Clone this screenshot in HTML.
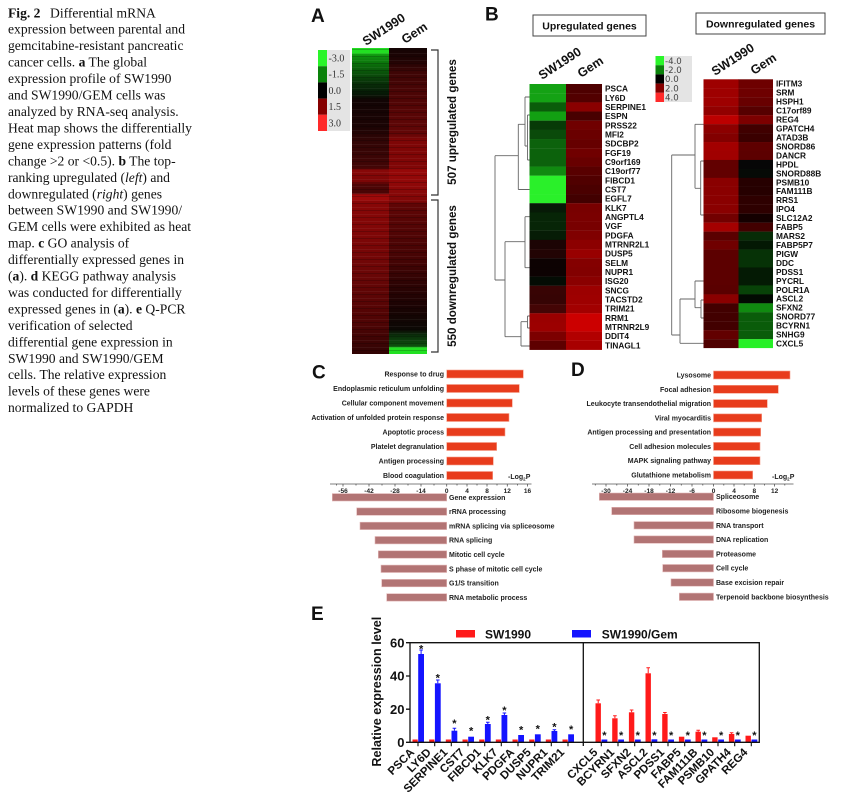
<!DOCTYPE html>
<html><head><meta charset="utf-8"><style>
html,body{margin:0;padding:0;background:#fff;}
svg{display:block;}
.cap{font-family:"Liberation Serif","Times New Roman",serif;font-size:13.6px;fill:#111;}
.b{font-family:"Liberation Sans",Arial,sans-serif;font-weight:bold;fill:#111;}
.lbl{font-family:"Liberation Sans",Arial,sans-serif;font-weight:bold;font-size:8.3px;fill:#111;}
.go{font-family:"Liberation Sans",Arial,sans-serif;font-weight:bold;font-size:7px;fill:#222;}
.tk{font-family:"Liberation Sans",Arial,sans-serif;font-weight:bold;font-size:6.5px;fill:#222;}
.lg{font-family:"DejaVu Sans",sans-serif;font-size:8.6px;fill:#444;}
</style></head><body>
<svg width="845" height="806" viewBox="0 0 845 806" xmlns="http://www.w3.org/2000/svg">
<defs>
<linearGradient id="gA1" x1="0" y1="0" x2="0" y2="1">
<stop offset="0" stop-color="#22e022"/><stop offset="0.016" stop-color="#22e022"/><stop offset="0.02" stop-color="#12a012"/><stop offset="0.033" stop-color="#0e8a0e"/><stop offset="0.06" stop-color="#0a660a"/><stop offset="0.09" stop-color="#0a4a0a"/><stop offset="0.114" stop-color="#083008"/><stop offset="0.15" stop-color="#061806"/><stop offset="0.17" stop-color="#120404"/><stop offset="0.26" stop-color="#1c0404"/><stop offset="0.30" stop-color="#300505"/><stop offset="0.39" stop-color="#420505"/><stop offset="0.40" stop-color="#880808"/><stop offset="0.44" stop-color="#7a0606"/><stop offset="0.445" stop-color="#4e0505"/><stop offset="0.474" stop-color="#4a0505"/><stop offset="0.48" stop-color="#a00a0a"/><stop offset="0.497" stop-color="#a00a0a"/><stop offset="0.50" stop-color="#880707"/><stop offset="0.6" stop-color="#800707"/><stop offset="0.716" stop-color="#6e0606"/><stop offset="0.8" stop-color="#5e0505"/><stop offset="0.9" stop-color="#4e0404"/><stop offset="0.97" stop-color="#3a0404"/><stop offset="1" stop-color="#300303"/>
</linearGradient>
<linearGradient id="gA2" x1="0" y1="0" x2="0" y2="1">
<stop offset="0" stop-color="#140404"/><stop offset="0.04" stop-color="#200404"/><stop offset="0.08" stop-color="#3e0505"/><stop offset="0.2" stop-color="#550505"/><stop offset="0.28" stop-color="#620606"/><stop offset="0.3" stop-color="#7e0606"/><stop offset="0.39" stop-color="#800606"/><stop offset="0.4" stop-color="#960808"/><stop offset="0.44" stop-color="#900808"/><stop offset="0.5" stop-color="#800707"/><stop offset="0.51" stop-color="#600505"/><stop offset="0.6" stop-color="#520505"/><stop offset="0.7" stop-color="#440404"/><stop offset="0.77" stop-color="#2e0303"/><stop offset="0.85" stop-color="#1a0303"/><stop offset="0.92" stop-color="#0c0804"/><stop offset="0.94" stop-color="#0a300a"/><stop offset="0.975" stop-color="#0e500e"/><stop offset="0.98" stop-color="#22e022"/><stop offset="1" stop-color="#22e022"/>
</linearGradient>
<pattern id="str" width="8" height="7" patternUnits="userSpaceOnUse"><rect y="0" width="8" height="1" fill="#000" opacity="0.2"/><rect y="4" width="8" height="1" fill="#fff" opacity="0.05"/></pattern>
</defs>

<!-- Caption -->
<text class="cap" x="8" y="17.3"><tspan font-weight="bold">Fig. 2</tspan><tspan x="50">Differential mRNA</tspan></text>
<text class="cap" x="8" y="33.7">expression between parental and</text>
<text class="cap" x="8" y="50.2">gemcitabine-resistant pancreatic</text>
<text class="cap" x="8" y="66.6">cancer cells. <tspan font-weight="bold">a</tspan> The global</text>
<text class="cap" x="8" y="83.1">expression profile of SW1990</text>
<text class="cap" x="8" y="99.5">and SW1990/GEM cells was</text>
<text class="cap" x="8" y="116.0">analyzed by RNA-seq analysis.</text>
<text class="cap" x="8" y="132.5">Heat map shows the differentially</text>
<text class="cap" x="8" y="148.9">gene expression patterns (fold</text>
<text class="cap" x="8" y="165.4">change &gt;2 or &lt;0.5). <tspan font-weight="bold">b</tspan> The top-</text>
<text class="cap" x="8" y="181.8">ranking upregulated (<tspan font-style="italic">left</tspan>) and</text>
<text class="cap" x="8" y="198.3">downregulated (<tspan font-style="italic">right</tspan>) genes</text>
<text class="cap" x="8" y="214.7">between SW1990 and SW1990/</text>
<text class="cap" x="8" y="231.2">GEM cells were exhibited as heat</text>
<text class="cap" x="8" y="247.6">map. <tspan font-weight="bold">c</tspan> GO analysis of</text>
<text class="cap" x="8" y="264.1">differentially expressed genes in</text>
<text class="cap" x="8" y="280.5">(<tspan font-weight="bold">a</tspan>). <tspan font-weight="bold">d</tspan> KEGG pathway analysis</text>
<text class="cap" x="8" y="297.0">was conducted for differentially</text>
<text class="cap" x="8" y="313.4">expressed genes in (<tspan font-weight="bold">a</tspan>). <tspan font-weight="bold">e</tspan> Q-PCR</text>
<text class="cap" x="8" y="329.9">verification of selected</text>
<text class="cap" x="8" y="346.3">differential gene expression in</text>
<text class="cap" x="8" y="362.8">SW1990 and SW1990/GEM</text>
<text class="cap" x="8" y="379.2">cells. The relative expression</text>
<text class="cap" x="8" y="395.7">levels of these genes were</text>
<text class="cap" x="8" y="412.1">normalized to GAPDH</text>

<!-- Panel letters -->
<text class="b" x="311" y="22" font-size="19">A</text>
<text class="b" x="485" y="20.5" font-size="19">B</text>
<text class="b" x="312" y="378.5" font-size="19">C</text>
<text class="b" x="571" y="376" font-size="19">D</text>
<text class="b" x="311" y="620" font-size="19">E</text>

<!-- Panel A -->
<rect x="327" y="50" width="23" height="81" fill="#e4e4e4"/>
<rect x="318" y="50" width="9" height="16.2" fill="#2af52a"/>
<rect x="318" y="66.2" width="9" height="16.2" fill="#0a820a"/>
<rect x="318" y="82.4" width="9" height="16.2" fill="#000"/>
<rect x="318" y="98.6" width="9" height="16.2" fill="#860000"/>
<rect x="318" y="114.8" width="9" height="16.2" fill="#ff2a2a"/>
<g font-family="Liberation Serif, serif" font-size="10" fill="#333">
<text x="328.5" y="61.5">-3.0</text><text x="328.5" y="77.7">-1.5</text><text x="328.5" y="93.9">0.0</text><text x="328.5" y="110.1">1.5</text><text x="328.5" y="126.3">3.0</text>
</g>
<rect x="352" y="48" width="37" height="306" fill="url(#gA1)"/>
<rect x="389" y="48" width="38" height="306" fill="url(#gA2)"/>
<rect x="352" y="48" width="75" height="306" fill="url(#str)"/>
<text class="b" font-size="12.5" transform="translate(366,46) rotate(-33)">SW1990</text>
<text class="b" font-size="12.5" transform="translate(405,44) rotate(-33)">Gem</text>
<path d="M431 50H438V195H431M431 200H438V352H431" fill="none" stroke="#333" stroke-width="1.2"/>
<text class="b" font-size="11.6" text-anchor="middle" transform="translate(456,122) rotate(-90)">507 upregulated genes</text>
<text class="b" font-size="11.6" text-anchor="middle" transform="translate(456,276) rotate(-90)">550 downregulated genes</text>

<!-- Panel B headers -->
<rect x="533" y="15" width="113" height="21" fill="#fff" stroke="#444" stroke-width="1"/>
<text class="b" font-size="10.5" x="589.5" y="29.3" text-anchor="middle">Upregulated genes</text>
<rect x="696" y="13" width="129" height="21" fill="#fff" stroke="#444" stroke-width="1"/>
<text class="b" font-size="10.5" x="760.5" y="27.3" text-anchor="middle">Downregulated genes</text>
<text class="b" font-size="12.5" transform="translate(542,80) rotate(-33)">SW1990</text>
<text class="b" font-size="12.5" transform="translate(581,78) rotate(-33)">Gem</text>
<text class="b" font-size="12.5" transform="translate(715,76) rotate(-33)">SW1990</text>
<text class="b" font-size="12.5" transform="translate(754,75) rotate(-33)">Gem</text>

<!-- B legend -->
<rect x="664" y="56" width="28" height="46" fill="#e4e4e4"/>
<rect x="655.5" y="56" width="8.5" height="9.2" fill="#2af52a"/>
<rect x="655.5" y="65.2" width="8.5" height="9.2" fill="#0a820a"/>
<rect x="655.5" y="74.4" width="8.5" height="9.2" fill="#000"/>
<rect x="655.5" y="83.6" width="8.5" height="9.2" fill="#860000"/>
<rect x="655.5" y="92.8" width="8.5" height="9.2" fill="#ff2a2a"/>
<text class="lg" x="665" y="63.8">-4.0</text><text class="lg" x="665" y="73">-2.0</text><text class="lg" x="665" y="82.2">0.0</text><text class="lg" x="665" y="91.4">2.0</text><text class="lg" x="665" y="100.6">4.0</text>

<!-- B left heatmap -->
<g>
<rect x="529.5" y="84.00" width="36.8" height="9.3" fill="#14a214"/><rect x="566" y="84.00" width="36" height="9.3" fill="#4e0000"/>
<rect x="529.5" y="93.17" width="36.8" height="9.3" fill="#14a214"/><rect x="566" y="93.17" width="36" height="9.3" fill="#520000"/>
<rect x="529.5" y="102.34" width="36.8" height="9.3" fill="#0a5c0a"/><rect x="566" y="102.34" width="36" height="9.3" fill="#8a0000"/>
<rect x="529.5" y="111.51" width="36.8" height="9.3" fill="#12a012"/><rect x="566" y="111.51" width="36" height="9.3" fill="#480000"/>
<rect x="529.5" y="120.68" width="36.8" height="9.3" fill="#073a07"/><rect x="566" y="120.68" width="36" height="9.3" fill="#700000"/>
<rect x="529.5" y="129.85" width="36.8" height="9.3" fill="#0a4a0a"/><rect x="566" y="129.85" width="36" height="9.3" fill="#6a0000"/>
<rect x="529.5" y="139.02" width="36.8" height="9.3" fill="#0c620c"/><rect x="566" y="139.02" width="36" height="9.3" fill="#660000"/>
<rect x="529.5" y="148.19" width="36.8" height="9.3" fill="#0c620c"/><rect x="566" y="148.19" width="36" height="9.3" fill="#700000"/>
<rect x="529.5" y="157.36" width="36.8" height="9.3" fill="#0c620c"/><rect x="566" y="157.36" width="36" height="9.3" fill="#680000"/>
<rect x="529.5" y="166.53" width="36.8" height="9.3" fill="#108a10"/><rect x="566" y="166.53" width="36" height="9.3" fill="#580000"/>
<rect x="529.5" y="175.70" width="36.8" height="9.3" fill="#2af02a"/><rect x="566" y="175.70" width="36" height="9.3" fill="#500000"/>
<rect x="529.5" y="184.87" width="36.8" height="9.3" fill="#2af02a"/><rect x="566" y="184.87" width="36" height="9.3" fill="#4a0000"/>
<rect x="529.5" y="194.04" width="36.8" height="9.3" fill="#2af02a"/><rect x="566" y="194.04" width="36" height="9.3" fill="#420000"/>
<rect x="529.5" y="203.21" width="36.8" height="9.3" fill="#071a07"/><rect x="566" y="203.21" width="36" height="9.3" fill="#780000"/>
<rect x="529.5" y="212.38" width="36.8" height="9.3" fill="#072507"/><rect x="566" y="212.38" width="36" height="9.3" fill="#7a0000"/>
<rect x="529.5" y="221.55" width="36.8" height="9.3" fill="#072507"/><rect x="566" y="221.55" width="36" height="9.3" fill="#780000"/>
<rect x="529.5" y="230.72" width="36.8" height="9.3" fill="#061c06"/><rect x="566" y="230.72" width="36" height="9.3" fill="#800000"/>
<rect x="529.5" y="239.89" width="36.8" height="9.3" fill="#1c0404"/><rect x="566" y="239.89" width="36" height="9.3" fill="#8c0000"/>
<rect x="529.5" y="249.06" width="36.8" height="9.3" fill="#220404"/><rect x="566" y="249.06" width="36" height="9.3" fill="#980000"/>
<rect x="529.5" y="258.23" width="36.8" height="9.3" fill="#0d0202"/><rect x="566" y="258.23" width="36" height="9.3" fill="#840000"/>
<rect x="529.5" y="267.40" width="36.8" height="9.3" fill="#0d0202"/><rect x="566" y="267.40" width="36" height="9.3" fill="#820000"/>
<rect x="529.5" y="276.57" width="36.8" height="9.3" fill="#040c04"/><rect x="566" y="276.57" width="36" height="9.3" fill="#8a0000"/>
<rect x="529.5" y="285.74" width="36.8" height="9.3" fill="#380404"/><rect x="566" y="285.74" width="36" height="9.3" fill="#9c0000"/>
<rect x="529.5" y="294.91" width="36.8" height="9.3" fill="#360404"/><rect x="566" y="294.91" width="36" height="9.3" fill="#9e0000"/>
<rect x="529.5" y="304.08" width="36.8" height="9.3" fill="#440505"/><rect x="566" y="304.08" width="36" height="9.3" fill="#a20000"/>
<rect x="529.5" y="313.25" width="36.8" height="9.3" fill="#9a0000"/><rect x="566" y="313.25" width="36" height="9.3" fill="#cc0000"/>
<rect x="529.5" y="322.42" width="36.8" height="9.3" fill="#9c0000"/><rect x="566" y="322.42" width="36" height="9.3" fill="#cc0000"/>
<rect x="529.5" y="331.59" width="36.8" height="9.3" fill="#7c0000"/><rect x="566" y="331.59" width="36" height="9.3" fill="#b20000"/>
<rect x="529.5" y="340.76" width="36.8" height="9.17" fill="#5e0000"/><rect x="566" y="340.76" width="36" height="9.17" fill="#a80000"/>
</g>
<g class="lbl">
<text class="lbl" x="605" y="91.6">PSCA</text><text class="lbl" x="605" y="100.8">LY6D</text><text class="lbl" x="605" y="109.9">SERPINE1</text><text class="lbl" x="605" y="119.1">ESPN</text><text class="lbl" x="605" y="128.3">PRSS22</text><text class="lbl" x="605" y="137.5">MFI2</text><text class="lbl" x="605" y="146.6">SDCBP2</text><text class="lbl" x="605" y="155.8">FGF19</text><text class="lbl" x="605" y="165.0">C9orf169</text><text class="lbl" x="605" y="174.1">C19orf77</text><text class="lbl" x="605" y="183.3">FIBCD1</text><text class="lbl" x="605" y="192.5">CST7</text><text class="lbl" x="605" y="201.6">EGFL7</text><text class="lbl" x="605" y="210.8">KLK7</text><text class="lbl" x="605" y="220.0">ANGPTL4</text><text class="lbl" x="605" y="229.2">VGF</text><text class="lbl" x="605" y="238.3">PDGFA</text><text class="lbl" x="605" y="247.5">MTRNR2L1</text><text class="lbl" x="605" y="256.7">DUSP5</text><text class="lbl" x="605" y="265.8">SELM</text><text class="lbl" x="605" y="275.0">NUPR1</text><text class="lbl" x="605" y="284.2">ISG20</text><text class="lbl" x="605" y="293.3">SNCG</text><text class="lbl" x="605" y="302.5">TACSTD2</text><text class="lbl" x="605" y="311.7">TRIM21</text><text class="lbl" x="605" y="320.9">RRM1</text><text class="lbl" x="605" y="330.0">MTRNR2L9</text><text class="lbl" x="605" y="339.2">DDIT4</text><text class="lbl" x="605" y="348.4">TINAGL1</text>
</g>
<path d="M495 155.7V280M495 155.7H518.3M518.3 124.3V189.5M518.3 189.5H529.5M518.3 124.3H525M525 97V146M525 97H529.5M525 146H527.5M527.5 115V160M527.5 115H529.5M527.5 160H529.5M495 280H505M505 241.7V336.7M505 241.7H525M525 216.7V267.7M525 216.7H529.5M525 267.7H529.5M505 336.7H521M521 321.7V346M521 346H529.5M521 321.7H527.5M527.5 316V328M527.5 316H529.5M527.5 328H529.5" fill="none" stroke="#666" stroke-width="0.9"/>

<!-- B right heatmap -->
<g>
<rect x="703.5" y="79.30" width="35.3" height="9.1" fill="#9e0000"/><rect x="738.5" y="79.30" width="34.5" height="9.1" fill="#6e0000"/>
<rect x="703.5" y="88.26" width="35.3" height="9.1" fill="#9e0000"/><rect x="738.5" y="88.26" width="34.5" height="9.1" fill="#6e0000"/>
<rect x="703.5" y="97.22" width="35.3" height="9.1" fill="#9e0000"/><rect x="738.5" y="97.22" width="34.5" height="9.1" fill="#680000"/>
<rect x="703.5" y="106.18" width="35.3" height="9.1" fill="#920000"/><rect x="738.5" y="106.18" width="34.5" height="9.1" fill="#560000"/>
<rect x="703.5" y="115.14" width="35.3" height="9.1" fill="#bc0000"/><rect x="738.5" y="115.14" width="34.5" height="9.1" fill="#7c0000"/>
<rect x="703.5" y="124.10" width="35.3" height="9.1" fill="#8c0000"/><rect x="738.5" y="124.10" width="34.5" height="9.1" fill="#400000"/>
<rect x="703.5" y="133.06" width="35.3" height="9.1" fill="#820000"/><rect x="738.5" y="133.06" width="34.5" height="9.1" fill="#3a0000"/>
<rect x="703.5" y="142.02" width="35.3" height="9.1" fill="#a20000"/><rect x="738.5" y="142.02" width="34.5" height="9.1" fill="#5e0000"/>
<rect x="703.5" y="150.98" width="35.3" height="9.1" fill="#a00000"/><rect x="738.5" y="150.98" width="34.5" height="9.1" fill="#5c0000"/>
<rect x="703.5" y="159.94" width="35.3" height="9.1" fill="#620000"/><rect x="738.5" y="159.94" width="34.5" height="9.1" fill="#060606"/>
<rect x="703.5" y="168.90" width="35.3" height="9.1" fill="#620000"/><rect x="738.5" y="168.90" width="34.5" height="9.1" fill="#060a06"/>
<rect x="703.5" y="177.86" width="35.3" height="9.1" fill="#8a0000"/><rect x="738.5" y="177.86" width="34.5" height="9.1" fill="#260000"/>
<rect x="703.5" y="186.82" width="35.3" height="9.1" fill="#8a0000"/><rect x="738.5" y="186.82" width="34.5" height="9.1" fill="#260000"/>
<rect x="703.5" y="195.78" width="35.3" height="9.1" fill="#8a0000"/><rect x="738.5" y="195.78" width="34.5" height="9.1" fill="#2e0000"/>
<rect x="703.5" y="204.74" width="35.3" height="9.1" fill="#8a0000"/><rect x="738.5" y="204.74" width="34.5" height="9.1" fill="#2e0000"/>
<rect x="703.5" y="213.70" width="35.3" height="9.1" fill="#720000"/><rect x="738.5" y="213.70" width="34.5" height="9.1" fill="#140000"/>
<rect x="703.5" y="222.66" width="35.3" height="9.1" fill="#a40000"/><rect x="738.5" y="222.66" width="34.5" height="9.1" fill="#420000"/>
<rect x="703.5" y="231.62" width="35.3" height="9.1" fill="#5a0000"/><rect x="738.5" y="231.62" width="34.5" height="9.1" fill="#072c07"/>
<rect x="703.5" y="240.58" width="35.3" height="9.1" fill="#700000"/><rect x="738.5" y="240.58" width="34.5" height="9.1" fill="#041804"/>
<rect x="703.5" y="249.54" width="35.3" height="9.1" fill="#5c0000"/><rect x="738.5" y="249.54" width="34.5" height="9.1" fill="#063206"/>
<rect x="703.5" y="258.50" width="35.3" height="9.1" fill="#5c0000"/><rect x="738.5" y="258.50" width="34.5" height="9.1" fill="#063206"/>
<rect x="703.5" y="267.46" width="35.3" height="9.1" fill="#5c0000"/><rect x="738.5" y="267.46" width="34.5" height="9.1" fill="#041a04"/>
<rect x="703.5" y="276.42" width="35.3" height="9.1" fill="#5c0000"/><rect x="738.5" y="276.42" width="34.5" height="9.1" fill="#041a04"/>
<rect x="703.5" y="285.38" width="35.3" height="9.1" fill="#5a0000"/><rect x="738.5" y="285.38" width="34.5" height="9.1" fill="#084208"/>
<rect x="703.5" y="294.34" width="35.3" height="9.1" fill="#8a0000"/><rect x="738.5" y="294.34" width="34.5" height="9.1" fill="#020a02"/>
<rect x="703.5" y="303.30" width="35.3" height="9.1" fill="#420000"/><rect x="738.5" y="303.30" width="34.5" height="9.1" fill="#108a10"/>
<rect x="703.5" y="312.26" width="35.3" height="9.1" fill="#420000"/><rect x="738.5" y="312.26" width="34.5" height="9.1" fill="#0a5c0a"/>
<rect x="703.5" y="321.22" width="35.3" height="9.1" fill="#420000"/><rect x="738.5" y="321.22" width="34.5" height="9.1" fill="#0a5c0a"/>
<rect x="703.5" y="330.18" width="35.3" height="9.1" fill="#620000"/><rect x="738.5" y="330.18" width="34.5" height="9.1" fill="#0a5c0a"/>
<rect x="703.5" y="339.14" width="35.3" height="8.96" fill="#500000"/><rect x="738.5" y="339.14" width="34.5" height="8.96" fill="#28f028"/>
</g>
<g>
<text class="lbl" x="776" y="86.7">IFITM3</text><text class="lbl" x="776" y="95.7">SRM</text><text class="lbl" x="776" y="104.6">HSPH1</text><text class="lbl" x="776" y="113.6">C17orf89</text><text class="lbl" x="776" y="122.5">REG4</text><text class="lbl" x="776" y="131.5">GPATCH4</text><text class="lbl" x="776" y="140.5">ATAD3B</text><text class="lbl" x="776" y="149.4">SNORD86</text><text class="lbl" x="776" y="158.4">DANCR</text><text class="lbl" x="776" y="167.3">HPDL</text><text class="lbl" x="776" y="176.3">SNORD88B</text><text class="lbl" x="776" y="185.3">PSMB10</text><text class="lbl" x="776" y="194.2">FAM111B</text><text class="lbl" x="776" y="203.2">RRS1</text><text class="lbl" x="776" y="212.1">IPO4</text><text class="lbl" x="776" y="221.1">SLC12A2</text><text class="lbl" x="776" y="230.1">FABP5</text><text class="lbl" x="776" y="239.0">MARS2</text><text class="lbl" x="776" y="248.0">FABP5P7</text><text class="lbl" x="776" y="256.9">PIGW</text><text class="lbl" x="776" y="265.9">DDC</text><text class="lbl" x="776" y="274.9">PDSS1</text><text class="lbl" x="776" y="283.8">PYCRL</text><text class="lbl" x="776" y="292.8">POLR1A</text><text class="lbl" x="776" y="301.7">ASCL2</text><text class="lbl" x="776" y="310.7">SFXN2</text><text class="lbl" x="776" y="319.7">SNORD77</text><text class="lbl" x="776" y="328.6">BCYRN1</text><text class="lbl" x="776" y="337.6">SNHG9</text><text class="lbl" x="776" y="346.5">CXCL5</text>
</g>
<path d="M671.7 155V335M671.7 155H695M695 124.3V188.3M695 124.3H703.5M695 188.3H700.7M700.7 161V215M700.7 161H703.5M700.7 215H703.5M671.7 335H680M680 299V343.3M680 299H695M695 281V307.7M695 281H703.5M695 307.7H701M701 300V318M701 300H703.5M701 318H703.5M680 343.3H703.5" fill="none" stroke="#666" stroke-width="0.9"/>

<!-- Panel C -->
<g fill="#e83c1c" stroke="#f5a08c" stroke-width="0.6">
<rect x="446.7" y="370" width="76.6" height="8"/>
<rect x="446.7" y="384.5" width="72.6" height="8"/>
<rect x="446.7" y="399" width="65.6" height="8"/>
<rect x="446.7" y="413.5" width="62.3" height="8"/>
<rect x="446.7" y="428" width="58.3" height="8"/>
<rect x="446.7" y="442.5" width="50" height="8"/>
<rect x="446.7" y="457" width="46.6" height="8"/>
<rect x="446.7" y="471.5" width="46" height="8"/>
</g>
<g text-anchor="end">
<text class="go" x="444" y="376.5">Response to drug</text>
<text class="go" x="444" y="391">Endoplasmic reticulum unfolding</text>
<text class="go" x="444" y="405.5">Cellular component movement</text>
<text class="go" x="444" y="420">Activation of unfolded protein response</text>
<text class="go" x="444" y="434.5">Apoptotic process</text>
<text class="go" x="444" y="449">Platelet degranulation</text>
<text class="go" x="444" y="463.5">Antigen processing</text>
<text class="go" x="444" y="478">Blood coagulation</text>
</g>
<g fill="#b27474" stroke="#e2b6b6" stroke-width="0.6">
<rect x="332.3" y="493.6" width="114.4" height="7.4"/>
<rect x="356.7" y="507.9" width="90" height="7.4"/>
<rect x="360" y="522.2" width="86.7" height="7.4"/>
<rect x="375" y="536.5" width="71.7" height="7.4"/>
<rect x="378.3" y="550.8" width="68.4" height="7.4"/>
<rect x="381" y="565.1" width="65.7" height="7.4"/>
<rect x="381.7" y="579.4" width="65" height="7.4"/>
<rect x="386.7" y="593.7" width="60" height="7.4"/>
</g>
<text class="go" x="449" y="499.8">Gene expression</text>
<text class="go" x="449" y="514.1">rRNA processing</text>
<text class="go" x="449" y="528.4">mRNA splicing via spliceosome</text>
<text class="go" x="449" y="542.7">RNA splicing</text>
<text class="go" x="449" y="557">Mitotic cell cycle</text>
<text class="go" x="449" y="571.3">S phase of mitotic cell cycle</text>
<text class="go" x="449" y="585.6">G1/S transition</text>
<text class="go" x="449" y="599.9">RNA metabolic process</text>
<path d="M330 484H531.5M343 484v2.5M369 484v2.5M395 484v2.5M421 484v2.5M446.7 484v2.5M467 484v2.5M487 484v2.5M507.3 484v2.5M527.5 484v2.5M356 484v1.5M382 484v1.5M408 484v1.5M434 484v1.5M457 484v1.5M477 484v1.5M497 484v1.5M517.5 484v1.5M336.5 484v1.5" stroke="#555" stroke-width="0.8" fill="none"/>
<g text-anchor="middle">
<text class="tk" x="343" y="493">-56</text><text class="tk" x="369" y="493">-42</text><text class="tk" x="395" y="493">-28</text><text class="tk" x="421" y="493">-14</text><text class="tk" x="446.7" y="493">0</text><text class="tk" x="467" y="493">4</text><text class="tk" x="487" y="493">8</text><text class="tk" x="507.3" y="493">12</text><text class="tk" x="527.5" y="493">16</text>
</g>
<text class="go" x="508" y="479">-Log<tspan font-size="4.5" dy="1.5">2</tspan><tspan dy="-1.5">P</tspan></text>

<!-- Panel D -->
<g fill="#e83c1c" stroke="#f5a08c" stroke-width="0.6">
<rect x="713.5" y="371" width="76.5" height="8"/>
<rect x="713.5" y="385.3" width="64.8" height="8"/>
<rect x="713.5" y="399.6" width="53.8" height="8"/>
<rect x="713.5" y="413.9" width="48.2" height="8"/>
<rect x="713.5" y="428.1" width="47.2" height="8"/>
<rect x="713.5" y="442.4" width="46.5" height="8"/>
<rect x="713.5" y="456.7" width="46.5" height="8"/>
<rect x="713.5" y="471" width="39.2" height="8"/>
</g>
<g text-anchor="end">
<text class="go" x="711" y="377.5">Lysosome</text>
<text class="go" x="711" y="391.8">Focal adhesion</text>
<text class="go" x="711" y="406.1">Leukocyte transendothelial migration</text>
<text class="go" x="711" y="420.4">Viral myocarditis</text>
<text class="go" x="711" y="434.6">Antigen processing and presentation</text>
<text class="go" x="711" y="448.9">Cell adhesion molecules</text>
<text class="go" x="711" y="463.2">MAPK signaling pathway</text>
<text class="go" x="711" y="477.5">Glutathione metabolism</text>
</g>
<g fill="#b27474" stroke="#e2b6b6" stroke-width="0.6">
<rect x="599.3" y="493" width="114.2" height="7.4"/>
<rect x="611.7" y="507.3" width="101.8" height="7.4"/>
<rect x="634" y="521.6" width="79.5" height="7.4"/>
<rect x="634" y="535.9" width="79.5" height="7.4"/>
<rect x="662.3" y="550.2" width="51.2" height="7.4"/>
<rect x="662.7" y="564.5" width="50.8" height="7.4"/>
<rect x="671" y="578.8" width="42.5" height="7.4"/>
<rect x="679.3" y="593.1" width="34.2" height="7.4"/>
</g>
<text class="go" x="716" y="499.2">Spliceosome</text>
<text class="go" x="716" y="513.5">Ribosome biogenesis</text>
<text class="go" x="716" y="527.8">RNA transport</text>
<text class="go" x="716" y="542.1">DNA replication</text>
<text class="go" x="716" y="556.4">Proteasome</text>
<text class="go" x="716" y="570.7">Cell cycle</text>
<text class="go" x="716" y="585">Base excision repair</text>
<text class="go" x="716" y="599.3">Terpenoid backbone biosynthesis</text>
<path d="M592 484H793.5M606 484v2.5M627.5 484v2.5M649 484v2.5M670.5 484v2.5M692 484v2.5M713.5 484v2.5M734 484v2.5M754.3 484v2.5M774.6 484v2.5M595.3 484v1.5M616.8 484v1.5M638.3 484v1.5M659.8 484v1.5M681.3 484v1.5M702.8 484v1.5M723.8 484v1.5M744.2 484v1.5M764.5 484v1.5M784.8 484v1.5" stroke="#555" stroke-width="0.8" fill="none"/>
<g text-anchor="middle">
<text class="tk" x="606" y="493">-30</text><text class="tk" x="627.5" y="493">-24</text><text class="tk" x="649" y="493">-18</text><text class="tk" x="670.5" y="493">-12</text><text class="tk" x="692" y="493">-6</text><text class="tk" x="713.5" y="493">0</text><text class="tk" x="734" y="493">4</text><text class="tk" x="754.3" y="493">8</text><text class="tk" x="774.6" y="493">12</text>
</g>
<text class="go" x="772" y="479">-Log<tspan font-size="4.5" dy="1.5">2</tspan><tspan dy="-1.5">P</tspan></text>

<!-- Panel E -->
<rect x="456" y="630" width="19" height="7.5" fill="#ff1a1a"/>
<text class="b" font-size="12" x="485" y="638.3">SW1990</text>
<rect x="572" y="630" width="19" height="7.5" fill="#1414ff"/>
<text class="b" font-size="12" x="601.7" y="638.3">SW1990/Gem</text>

<!-- bars left -->
<g fill="#ff1a1a">
<rect x="412.5" y="739.5" width="5.2" height="2.8"/><rect x="429.2" y="739.5" width="5.2" height="2.8"/><rect x="445.8" y="739.5" width="5.2" height="2.8"/><rect x="462.5" y="739.5" width="5.2" height="2.8"/><rect x="479.2" y="739.5" width="5.2" height="2.8"/><rect x="495.8" y="739.5" width="5.2" height="2.8"/><rect x="512.5" y="739.5" width="5.2" height="2.8"/><rect x="529.2" y="739.5" width="5.2" height="2.8"/><rect x="545.8" y="739.5" width="5.2" height="2.8"/><rect x="562.5" y="739.5" width="5.2" height="2.8"/>
</g>
<g fill="#1414ff">
<rect x="418.2" y="654" width="5.8" height="88.3"/>
<rect x="434.9" y="683.3" width="5.8" height="59"/>
<rect x="451.5" y="730.7" width="5.8" height="11.6"/>
<rect x="468.2" y="736.7" width="5.8" height="5.6"/>
<rect x="484.9" y="724" width="5.8" height="18.3"/>
<rect x="501.5" y="715" width="5.8" height="27.3"/>
<rect x="518.2" y="735" width="5.8" height="7.3"/>
<rect x="534.9" y="734.3" width="5.8" height="8"/>
<rect x="551.5" y="731" width="5.8" height="11.3"/>
<rect x="568.2" y="734.3" width="5.8" height="8"/>
</g>
<path d="M421.1 654V650M419.3 650H422.9M437.8 683.3V680M436 680H439.6M454.4 730.7V728.3M452.6 728.3H456.2M487.8 724V722.3M486 722.3H489.6M504.4 715V713M502.6 713H506.2M554.4 731V729.8M552.6 729.8H556.2" stroke="#1414ff" stroke-width="1" fill="none"/>
<!-- bars right -->
<g fill="#ff1a1a">
<rect x="595.5" y="703.3" width="5.4" height="39"/>
<rect x="612.2" y="718.3" width="5.4" height="24"/>
<rect x="628.9" y="712.3" width="5.4" height="30"/>
<rect x="645.5" y="673.3" width="5.4" height="69"/>
<rect x="662.2" y="714" width="5.4" height="28.3"/>
<rect x="678.9" y="736.7" width="5.4" height="5.6"/>
<rect x="695.5" y="731.7" width="5.4" height="10.6"/>
<rect x="712.2" y="737.3" width="5.4" height="5"/>
<rect x="728.9" y="734" width="5.4" height="8.3"/>
<rect x="745.5" y="735.7" width="5.4" height="6.6"/>
</g>
<path d="M598.2 703.3V700M596.4 700H600M614.9 718.3V715.7M613.1 715.7H616.7M631.6 712.3V710M629.8 710H633.4M648.2 673.3V667.7M646.4 667.7H650M664.9 714V712.5M663.1 712.5H666.7M698.2 731.7V730.3M696.4 730.3H700M731.6 734V732.8M729.8 732.8H733.4" stroke="#ff1a1a" stroke-width="1" fill="none"/>
<g fill="#1414ff">
<rect x="601.5" y="739.5" width="5.8" height="2.8"/><rect x="618.2" y="739.5" width="5.8" height="2.8"/><rect x="634.9" y="739.5" width="5.8" height="2.8"/><rect x="651.5" y="739.3" width="5.8" height="3"/><rect x="668.2" y="739.5" width="5.8" height="2.8"/><rect x="684.9" y="739.5" width="5.8" height="2.8"/><rect x="701.5" y="739.5" width="5.8" height="2.8"/><rect x="718.2" y="739.5" width="5.8" height="2.8"/><rect x="734.9" y="739.5" width="5.8" height="2.8"/><rect x="751.5" y="739.5" width="5.8" height="2.8"/>
</g>
<!-- stars -->
<g class="b" font-size="11" text-anchor="middle" fill="#111">
<text x="421.1" y="652.3">*</text><text x="437.8" y="681.3">*</text><text x="454.4" y="727">*</text><text x="471.1" y="734.3">*</text><text x="487.8" y="723.3">*</text><text x="504.4" y="714">*</text><text x="521.1" y="733.3">*</text><text x="537.8" y="732.3">*</text><text x="554.4" y="730.3">*</text><text x="571.1" y="733">*</text>
<text x="604.4" y="739">*</text><text x="621.1" y="739">*</text><text x="637.8" y="739">*</text><text x="654.4" y="739">*</text><text x="671.1" y="739">*</text><text x="687.8" y="739">*</text><text x="704.4" y="739">*</text><text x="721.1" y="739">*</text><text x="737.8" y="739">*</text><text x="754.4" y="739">*</text>
</g>
<!-- axes -->
<path d="M410 642.7H759.3V742.3H410ZM583.3 642.7V746M406 642.7H410M406 676H410M406 709.2H410M406 742.3H410" stroke="#111" stroke-width="1.3" fill="none"/>
<path d="M418 742.3v4M434.7 742.3v4M451.3 742.3v4M468 742.3v4M484.7 742.3v4M501.3 742.3v4M518 742.3v4M534.7 742.3v4M551.3 742.3v4M568 742.3v4M601.3 742.3v4M618 742.3v4M634.7 742.3v4M651.3 742.3v4M668 742.3v4M684.7 742.3v4M701.3 742.3v4M718 742.3v4M734.7 742.3v4M751.3 742.3v4" stroke="#111" stroke-width="1.1"/>
<g class="b" font-size="13" text-anchor="end">
<text x="404.5" y="647.3">60</text><text x="404.5" y="680.6">40</text><text x="404.5" y="713.8">20</text><text x="404.5" y="746.9">0</text>
</g>
<text class="b" font-size="12.6" text-anchor="middle" transform="translate(381,691.7) rotate(-90)">Relative expression level</text>
<g class="b" font-size="11.5" text-anchor="end">
<text transform="translate(415,753) rotate(-45)">PSCA</text>
<text transform="translate(431.7,753) rotate(-45)">LY6D</text>
<text transform="translate(448.3,753) rotate(-45)">SERPINE1</text>
<text transform="translate(465,753) rotate(-45)">CST7</text>
<text transform="translate(481.7,753) rotate(-45)">FIBCD1</text>
<text transform="translate(498.3,753) rotate(-45)">KLK7</text>
<text transform="translate(515,753) rotate(-45)">PDGFA</text>
<text transform="translate(531.7,753) rotate(-45)">DUSP5</text>
<text transform="translate(548.3,753) rotate(-45)">NUPR1</text>
<text transform="translate(565,753) rotate(-45)">TRIM21</text>
<text transform="translate(598.3,753) rotate(-45)">CXCL5</text>
<text transform="translate(615,753) rotate(-45)">BCYRN1</text>
<text transform="translate(631.7,753) rotate(-45)">SFXN2</text>
<text transform="translate(648.3,753) rotate(-45)">ASCL2</text>
<text transform="translate(665,753) rotate(-45)">PDSS1</text>
<text transform="translate(681.7,753) rotate(-45)">FABP5</text>
<text transform="translate(698.3,753) rotate(-45)">FAM111B</text>
<text transform="translate(715,753) rotate(-45)">PSMB10</text>
<text transform="translate(731.7,753) rotate(-45)">GPATH4</text>
<text transform="translate(748.3,753) rotate(-45)">REG4</text>
</g>
</svg>
</body></html>
